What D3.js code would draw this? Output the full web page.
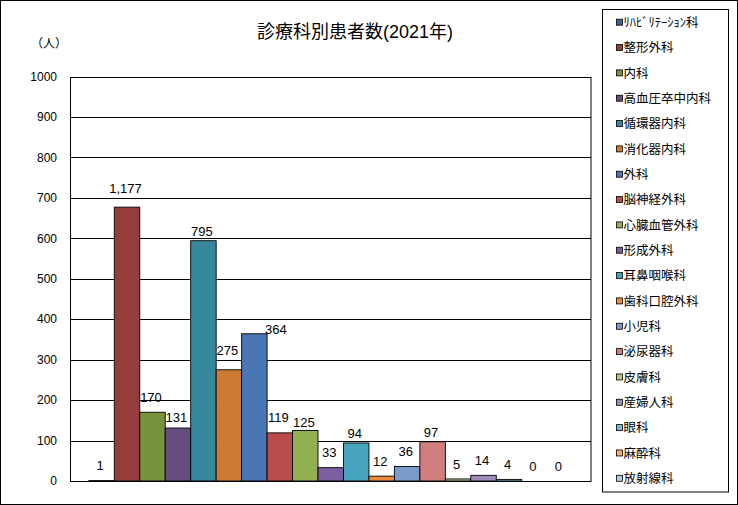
<!DOCTYPE html>
<html lang="ja">
<head>
<meta charset="UTF-8">
<title>診療科別患者数(2021年)</title>
<script src="https://cdn.jsdelivr.net/npm/d3@7"></script>
<style>
  html, body { margin: 0; padding: 0; background: #fff; }
  svg { display: block; }
  text { font-family: "Liberation Sans", "Noto Sans CJK JP", sans-serif; fill: #000; }
</style>
</head>
<body>
<div id="chart"></div>
<script>
// 診療科（凡例の順）
const departments = [
  "ﾘﾊﾋﾞﾘﾃｰｼｮﾝ科", "整形外科", "内科", "高血圧卒中内科", "循環器内科",
  "消化器内科", "外科", "脳神経外科", "心臓血管外科", "形成外科",
  "耳鼻咽喉科", "歯科口腔外科", "小児科", "泌尿器科", "皮膚科",
  "産婦人科", "眼科", "麻酔科", "放射線科"
];
// 棒の高さ（図に描かれている値）
const barHeights = [1, 677, 170, 131, 594, 275, 364, 119, 125, 33, 94, 12, 36, 97, 5, 14, 4, 0, 0];
// データラベル（図に書かれている数値）
const barLabels = ["1", "1,177", "170", "131", "795", "275", "364", "119", "125", "33", "94", "12", "36", "97", "5", "14", "4", "0", "0"];
// 系列の色
const barColors = [
  "#3b6596", "#963c3b", "#77933c", "#654d80", "#37879c",
  "#cd7a35", "#4a77b4", "#b94c4a", "#92b050", "#7c5fa1",
  "#45a3be", "#ee8a3a", "#7b9bcd", "#d07f7e", "#b2cc80",
  "#9f8cba", "#6ebdd4", "#f9ab6e", "#b9c9e3"
];
const yTicks = [0, 100, 200, 300, 400, 500, 600, 700, 800, 900, 1000];

const W = 738, H = 505;
const plot = { left: 70.5, right: 591, top: 76.5, bottom: 481 };

const svg = d3.select("#chart").append("svg")
  .attr("width", W).attr("height", H);

// 外枠
svg.append("rect")
  .attr("x", 0.5).attr("y", 0.5)
  .attr("width", W - 1).attr("height", H - 1)
  .attr("fill", "#fff").attr("stroke", "#000");

const x = d3.scaleBand()
  .domain(d3.range(departments.length))
  .range([plot.left, plot.right])
  .paddingInner(0)
  .paddingOuter(0.72);

const y = d3.scaleLinear()
  .domain([0, 1000])
  .range([plot.bottom, plot.top]);

// 目盛線
svg.append("g")
  .selectAll("line")
  .data(yTicks)
  .join("line")
  .attr("x1", plot.left).attr("x2", plot.right)
  .attr("y1", d => Math.round(y(d)) + 0.5)
  .attr("y2", d => Math.round(y(d)) + 0.5)
  .attr("stroke", "#000");

// 縦軸ラベル
svg.append("g")
  .selectAll("text")
  .data(yTicks)
  .join("text")
  .attr("x", 57)
  .attr("y", d => y(d))
  .attr("dy", "0.35em")
  .attr("text-anchor", "end")
  .style("font-size", "12px")
  .text(d => d);

// プロットエリア枠
svg.append("rect")
  .attr("x", plot.left).attr("y", Math.round(y(1000)) + 0.5)
  .attr("width", plot.right - plot.left)
  .attr("height", Math.round(y(0)) - Math.round(y(1000)))
  .attr("fill", "none").attr("stroke", "#000");

// 棒
svg.append("g")
  .selectAll("rect")
  .data(barHeights.map((v, i) => ({ v, i })).filter(d => d.v > 0))
  .join("rect")
  .attr("x", d => x(d.i))
  .attr("y", d => y(d.v))
  .attr("width", x.bandwidth())
  .attr("height", d => Math.max(0.8, y(0) - y(d.v)))
  .attr("fill", d => barColors[d.i])
  .attr("stroke", "#000")
  .attr("stroke-width", 0.9);

// ラベル位置の手直し（元図で個別に動かされているもの）
const labelNudge = { 1: [0, -4], 3: [0, 4], 4: [0, 6], 5: [0, -4], 6: [23, 11], 8: [0, 7], 10: [0, 5], 13: [0, 6] };

svg.append("g")
  .selectAll("text")
  .data(barLabels)
  .join("text")
  .attr("x", (d, i) => x(i) + x.bandwidth() / 2 - 1.5 + (labelNudge[i] ? labelNudge[i][0] : 0))
  .attr("y", (d, i) => y(barHeights[i]) - 15 + (labelNudge[i] ? labelNudge[i][1] : 0))
  .attr("dy", "0.35em")
  .attr("text-anchor", "middle")
  .style("font-size", "13px")
  .text(d => d);

// タイトル
svg.append("text")
  .attr("x", 355).attr("y", 32)
  .attr("dy", "0.35em")
  .attr("text-anchor", "middle")
  .style("font-size", "18px")
  .text("診療科別患者数(2021年)");

// 単位
svg.append("text")
  .attr("x", 31).attr("y", 44)
  .attr("dy", "0.35em")
  .style("font-size", "12px")
  .style("font-family", "'Noto Sans CJK JP', sans-serif")
  .text("（人）");

// 凡例
const legend = svg.append("g");
legend.append("rect")
  .attr("x", 602.5).attr("y", 9.5)
  .attr("width", 126).attr("height", 482.5)
  .attr("fill", "#fff").attr("stroke", "#000");

const legendRow = d3.scaleLinear().domain([0, 18]).range([22.7, 478.8]);

const item = legend.selectAll("g")
  .data(departments)
  .join("g")
  .attr("transform", (d, i) => `translate(0,${legendRow(i)})`);

item.append("rect")
  .attr("x", 616.5).attr("y", -3.5)
  .attr("width", 6).attr("height", 6)
  .attr("fill", (d, i) => barColors[i])
  .attr("stroke", "#000")
  .attr("stroke-width", 0.8);

item.append("text")
  .attr("x", 623.5).attr("y", 0)
  .attr("dy", "0.35em")
  .style("font-size", "12.5px")
  .style("font-family", "'Noto Sans CJK JP', sans-serif")
  .text(d => d);
</script>
</body>
</html>
